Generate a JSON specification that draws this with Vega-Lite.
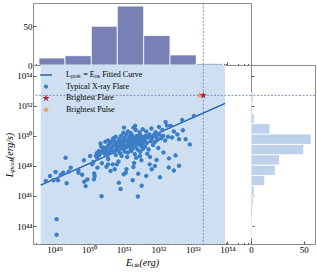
{
  "$schema": "https://vega.github.io/schema/vega-lite/v6.json",
  "padding": {"left": 4, "top": 2, "right": 0, "bottom": 0},
  "columns": 2,
  "spacing": 0,
  "align": "each",
  "bounds": "flush",
  "resolve": {"scale": {"color": "independent", "shape": "independent"}, "legend": {"color": "independent", "shape": "independent"}},
  "config": {
    "font": "Liberation Serif",
    "view": {"stroke": "#8c8c8c", "strokeWidth": 1},
    "axis": {"grid": false, "domain": false, "labelFontSize": 9, "titleFontSize": 10, "labelColor": "#000000", "titleColor": "#000000", "tickColor": "#555555", "titleFontWeight": "normal", "titleFontStyle": "italic", "labelOverlap": false, "labelFlush": false},
    "legend": {"labelFontSize": 8, "labelColor": "#000000", "padding": 0, "rowPadding": 1.6, "labelOffset": 14, "symbolStrokeWidth": 0, "symbolSize": 144}
  },
  "datasets": {
    "flares": [
      {"E":1.15e49,"L":2.82e44,"k":"typ"},{"E":1.15e49,"L":2.63e43,"k":"typ"},{"E":5.62e48,"L":1.0e47,"k":"typ"},{"E":7.41e48,"L":2.14e47,"k":"typ"},{"E":1.07e49,"L":3.98e47,"k":"typ"},{"E":9.33e48,"L":1.12e47,"k":"typ"},{"E":1.26e49,"L":1.12e47,"k":"typ"},{"E":1.51e49,"L":2.51e47,"k":"typ"},{"E":1.78e49,"L":3.55e47,"k":"typ"},
      {"E":2.24e49,"L":7.08e46,"k":"typ"},{"E":2.09e49,"L":3.55e48,"k":"typ"},{"E":2.57e49,"L":4.17e47,"k":"typ"},{"E":2.95e49,"L":7.76e47,"k":"typ"},{"E":4.90e49,"L":5.37e47,"k":"typ"},{"E":4.90e49,"L":3.55e47,"k":"typ"},{"E":6.31e49,"L":2.63e47,"k":"typ"},{"E":7.08e49,"L":2.40e48,"k":"typ"},{"E":7.24e49,"L":8.91e46,"k":"typ"},{"E":7.94e49,"L":4.57e46,"k":"typ"},{"E":1.07e50,"L":4.68e48,"k":"typ"},{"E":8.91e49,"L":1.26e47,"k":"typ"},
      {"E":1.23e50,"L":1.29e48,"k":"typ"},{"E":1.32e50,"L":1.86e48,"k":"typ"},{"E":1.41e50,"L":3.24e47,"k":"typ"},{"E":1.45e50,"L":2.14e47,"k":"typ"},{"E":1.38e50,"L":1.29e47,"k":"typ"},{"E":1.58e50,"L":4.68e48,"k":"typ"},{"E":1.74e50,"L":7.76e47,"k":"typ"},{"E":2.29e50,"L":9.55e45,"k":"typ"},{"E":2.34e50,"L":1.51e48,"k":"typ"},{"E":2.69e50,"L":1.66e49,"k":"typ"},
      {"E":3.02e50,"L":7.76e48,"k":"typ"},{"E":3.39e50,"L":4.68e48,"k":"typ"},{"E":3.55e50,"L":1.29e48,"k":"typ"},{"E":4.17e50,"L":4.68e47,"k":"typ"},{"E":4.79e50,"L":1.29e48,"k":"typ"},{"E":5.89e50,"L":5.37e48,"k":"typ"},{"E":5.50e50,"L":6.03e47,"k":"typ"},{"E":6.31e50,"L":1.29e48,"k":"typ"},{"E":3.16e50,"L":8.91e47,"k":"typ"},{"E":3.55e50,"L":2.82e48,"k":"typ"},
      {"E":1.74e50,"L":3.09e48,"k":"typ"},{"E":1.95e50,"L":5.13e48,"k":"typ"},{"E":3.98e50,"L":3.98e49,"k":"typ"},{"E":1.66e50,"L":7.08e48,"k":"typ"},{"E":1.91e50,"L":1.0e49,"k":"typ"},{"E":2.04e50,"L":6.31e48,"k":"typ"},{"E":2.24e50,"L":2.0e49,"k":"typ"},{"E":2.40e50,"L":8.91e48,"k":"typ"},{"E":2.57e50,"L":1.26e49,"k":"typ"},{"E":2.82e50,"L":6.61e48,"k":"typ"},
      {"E":3.16e50,"L":1.58e49,"k":"typ"},{"E":3.31e50,"L":1.0e49,"k":"typ"},{"E":3.63e50,"L":2.40e49,"k":"typ"},{"E":3.80e50,"L":7.94e48,"k":"typ"},{"E":4.17e50,"L":1.41e49,"k":"typ"},{"E":4.47e50,"L":1.12e49,"k":"typ"},{"E":4.79e50,"L":2.0e49,"k":"typ"},{"E":5.25e50,"L":8.91e48,"k":"typ"},{"E":5.62e50,"L":2.63e49,"k":"typ"},{"E":6.03e50,"L":1.32e49,"k":"typ"},
      {"E":6.46e50,"L":1.78e49,"k":"typ"},{"E":2.14e50,"L":3.16e49,"k":"typ"},{"E":2.95e50,"L":4.17e49,"k":"typ"},{"E":3.55e50,"L":5.01e49,"k":"typ"},{"E":4.27e50,"L":3.55e49,"k":"typ"},{"E":5.01e50,"L":7.08e49,"k":"typ"},{"E":5.50e50,"L":4.47e49,"k":"typ"},{"E":5.89e50,"L":8.91e49,"k":"typ"},{"E":6.31e50,"L":3.31e49,"k":"typ"},{"E":4.90e50,"L":5.62e49,"k":"typ"},
      {"E":7.24e50,"L":7.76e46,"k":"typ"},{"E":8.13e50,"L":2.95e46,"k":"typ"},{"E":8.71e50,"L":4.68e48,"k":"typ"},{"E":1.15e51,"L":3.55e47,"k":"typ"},{"E":1.20e51,"L":6.03e47,"k":"typ"},{"E":1.82e51,"L":1.12e47,"k":"typ"},{"E":1.91e51,"L":8.51e47,"k":"typ"},{"E":2.63e51,"L":3.09e47,"k":"typ"},{"E":2.57e51,"L":9.33e45,"k":"typ"},{"E":3.31e51,"L":4.79e46,"k":"typ"},
      {"E":2.95e51,"L":4.68e48,"k":"typ"},{"E":3.24e51,"L":2.40e48,"k":"typ"},{"E":1.0e51,"L":2.82e47,"k":"typ"},{"E":7.08e50,"L":2.0e48,"k":"typ"},{"E":1.26e51,"L":3.98e48,"k":"typ"},{"E":2.0e51,"L":1.58e48,"k":"typ"},{"E":2.29e51,"L":3.55e48,"k":"typ"},{"E":1.58e51,"L":1.29e49,"k":"typ"},{"E":9.77e50,"L":1.66e50,"k":"typ"},{"E":1.91e51,"L":3.63e50,"k":"typ"},
      {"E":1.02e51,"L":3.63e50,"k":"typ"},{"E":2.14e51,"L":4.79e50,"k":"typ"},
      {"E":7.08e50,"L":1.0e49,"k":"typ"},{"E":7.59e50,"L":2.0e49,"k":"typ"},{"E":7.94e50,"L":7.08e48,"k":"typ"},{"E":8.51e50,"L":1.58e49,"k":"typ"},{"E":9.12e50,"L":2.51e49,"k":"typ"},{"E":1.0e51,"L":1.26e49,"k":"typ"},{"E":1.07e51,"L":8.91e48,"k":"typ"},{"E":1.12e51,"L":2.24e49,"k":"typ"},{"E":1.20e51,"L":1.78e49,"k":"typ"},{"E":1.32e51,"L":7.94e48,"k":"typ"},
      {"E":1.41e51,"L":2.63e49,"k":"typ"},{"E":1.51e51,"L":2.0e49,"k":"typ"},{"E":1.66e51,"L":1.0e49,"k":"typ"},{"E":1.78e51,"L":2.51e49,"k":"typ"},{"E":1.91e51,"L":1.58e49,"k":"typ"},{"E":2.09e51,"L":6.31e48,"k":"typ"},{"E":2.24e51,"L":2.24e49,"k":"typ"},{"E":2.51e51,"L":1.26e49,"k":"typ"},{"E":2.82e51,"L":2.69e49,"k":"typ"},{"E":3.02e51,"L":8.91e48,"k":"typ"},
      {"E":3.31e51,"L":2.0e49,"k":"typ"},{"E":3.63e51,"L":1.41e49,"k":"typ"},
      {"E":6.92e50,"L":3.98e49,"k":"typ"},{"E":7.41e50,"L":6.31e49,"k":"typ"},{"E":7.94e50,"L":3.16e49,"k":"typ"},{"E":8.32e50,"L":1.0e50,"k":"typ"},{"E":8.91e50,"L":5.01e49,"k":"typ"},{"E":9.55e50,"L":3.55e49,"k":"typ"},{"E":1.05e51,"L":7.94e49,"k":"typ"},{"E":1.10e51,"L":4.47e49,"k":"typ"},{"E":1.17e51,"L":1.26e50,"k":"typ"},{"E":1.26e51,"L":5.62e49,"k":"typ"},
      {"E":1.35e51,"L":3.16e49,"k":"typ"},{"E":1.45e51,"L":8.91e49,"k":"typ"},{"E":1.55e51,"L":3.98e49,"k":"typ"},{"E":1.62e51,"L":7.08e49,"k":"typ"},{"E":1.74e51,"L":1.12e50,"k":"typ"},{"E":1.86e51,"L":5.01e49,"k":"typ"},{"E":2.0e51,"L":3.55e49,"k":"typ"},{"E":2.14e51,"L":7.94e49,"k":"typ"},{"E":2.29e51,"L":5.62e49,"k":"typ"},{"E":2.40e51,"L":1.0e50,"k":"typ"},
      {"E":2.57e51,"L":3.98e49,"k":"typ"},{"E":2.75e51,"L":7.08e49,"k":"typ"},{"E":2.95e51,"L":1.26e50,"k":"typ"},{"E":3.16e51,"L":5.01e49,"k":"typ"},{"E":3.39e51,"L":8.91e49,"k":"typ"},{"E":3.55e51,"L":3.16e49,"k":"typ"},{"E":3.72e51,"L":6.31e49,"k":"typ"},
      {"E":1.32e51,"L":2.0e50,"k":"typ"},{"E":1.58e51,"L":1.58e50,"k":"typ"},{"E":2.24e51,"L":2.51e50,"k":"typ"},{"E":2.88e51,"L":1.78e50,"k":"typ"},{"E":3.55e51,"L":2.82e50,"k":"typ"},
      {"E":4.47e51,"L":2.14e47,"k":"typ"},{"E":1.12e52,"L":1.78e47,"k":"typ"},{"E":6.46e51,"L":6.03e47,"k":"typ"},{"E":2.0e52,"L":7.94e47,"k":"typ"},{"E":7.94e51,"L":1.0e48,"k":"typ"},{"E":2.04e52,"L":3.24e48,"k":"typ"},{"E":5.75e51,"L":3.98e48,"k":"typ"},{"E":5.62e51,"L":1.29e48,"k":"typ"},{"E":8.91e51,"L":2.51e48,"k":"typ"},{"E":4.79e51,"L":6.61e48,"k":"typ"},
      {"E":1.62e52,"L":8.51e50,"k":"typ"},
      {"E":4.17e51,"L":2.0e49,"k":"typ"},{"E":5.25e51,"L":1.26e49,"k":"typ"},{"E":7.08e51,"L":2.51e49,"k":"typ"},{"E":1.0e52,"L":1.58e49,"k":"typ"},{"E":1.41e52,"L":7.94e48,"k":"typ"},
      {"E":3.98e51,"L":5.01e49,"k":"typ"},{"E":4.27e51,"L":1.0e50,"k":"typ"},{"E":4.68e51,"L":3.55e49,"k":"typ"},{"E":5.01e51,"L":7.94e49,"k":"typ"},{"E":5.50e51,"L":1.26e50,"k":"typ"},{"E":6.03e51,"L":4.47e49,"k":"typ"},{"E":6.61e51,"L":7.08e49,"k":"typ"},{"E":7.24e51,"L":1.12e50,"k":"typ"},{"E":7.94e51,"L":3.98e49,"k":"typ"},{"E":8.71e51,"L":8.91e49,"k":"typ"},
      {"E":9.55e51,"L":5.62e49,"k":"typ"},{"E":1.07e52,"L":1.26e50,"k":"typ"},{"E":1.20e52,"L":7.08e49,"k":"typ"},{"E":1.38e52,"L":1.0e50,"k":"typ"},{"E":1.58e52,"L":5.01e49,"k":"typ"},{"E":1.91e52,"L":8.91e49,"k":"typ"},
      {"E":4.47e51,"L":2.0e50,"k":"typ"},{"E":6.31e51,"L":3.16e50,"k":"typ"},{"E":8.32e51,"L":1.78e50,"k":"typ"},{"E":1.05e52,"L":3.98e50,"k":"typ"},{"E":1.32e52,"L":2.51e50,"k":"typ"},{"E":1.78e52,"L":5.01e50,"k":"typ"},
      {"E":2.82e52,"L":5.01e47,"k":"typ"},{"E":3.98e52,"L":1.05e48,"k":"typ"},{"E":3.16e52,"L":5.01e48,"k":"typ"},{"E":8.13e52,"L":2.75e49,"k":"typ"},{"E":3.98e52,"L":6.03e49,"k":"typ"},{"E":6.17e52,"L":6.03e49,"k":"typ"},{"E":2.29e52,"L":4.68e50,"k":"typ"},{"E":5.13e52,"L":2.40e50,"k":"typ"},{"E":4.90e52,"L":1.17e51,"k":"typ"},{"E":1.07e53,"L":2.14e51,"k":"typ"},
      {"E":2.51e52,"L":7.94e49,"k":"typ"},{"E":3.55e52,"L":1.26e50,"k":"typ"},{"E":2.82e52,"L":2.0e50,"k":"typ"},
      {"E":1.58e53,"L":5.13e52,"k":"pulse"},{"E":2.0e53,"L":5.13e52,"k":"flare"}
    ],
    "ehist": [
      {"lo":3.56e48,"hi":2.01e49,"n":9},{"lo":2.01e49,"hi":1.16e50,"n":12},{"lo":1.16e50,"hi":6.53e50,"n":50},{"lo":6.53e50,"hi":3.78e51,"n":76},{"lo":3.78e51,"hi":2.18e52,"n":38},{"lo":2.18e52,"hi":1.25e53,"n":13},{"lo":1.25e53,"hi":7.26e53,"n":2}
    ],
    "lhist": [
      {"lo":1.754e43,"hi":8.57e43,"n":1},{"lo":8.57e43,"hi":4.19e44,"n":1},{"lo":4.19e44,"hi":2.05e45,"n":0},{"lo":2.05e45,"hi":1.0e46,"n":2},{"lo":1.0e46,"hi":4.89e46,"n":3},{"lo":4.89e46,"hi":2.39e47,"n":13},{"lo":2.39e47,"hi":1.167e48,"n":23},{"lo":1.167e48,"hi":5.7e48,"n":27},{"lo":5.7e48,"hi":2.78e49,"n":50},{"lo":2.78e49,"hi":1.358e50,"n":57},{"lo":1.358e50,"hi":6.64e50,"n":18},{"lo":6.64e50,"hi":3.24e51,"n":3},{"lo":3.24e51,"hi":1.585e52,"n":0},{"lo":1.585e52,"hi":7.74e52,"n":2}
    ]
  },
  "concat": [
    {
      "width": 218, "height": 62,
      "layer": [
        {
          "data": {"name": "ehist"},
          "mark": {"type": "rect", "color": "#7880b5", "stroke": "#ffffff", "strokeWidth": 0.8},
          "encoding": {
            "x": {"field": "lo", "type": "quantitative", "scale": {"type": "log", "domain": [2.39e48, 4.78e54], "nice": false},
                  "axis": {"title": null, "labels": false, "values": [3e48,4e48,5e48,6e48,7e48,8e48,9e48,1e49,2e49,3e49,4e49,5e49,6e49,7e49,8e49,9e49,1e50,2e50,3e50,4e50,5e50,6e50,7e50,8e50,9e50,1e51,2e51,3e51,4e51,5e51,6e51,7e51,8e51,9e51,1e52,2e52,3e52,4e52,5e52,6e52,7e52,8e52,9e52,1e53,2e53,3e53,4e53,5e53,6e53,7e53,8e53,9e53,1e54,2e54,3e54,4e54],
                           "tickSize": {"condition": {"test": "abs(log(datum.value)/LN10-round(log(datum.value)/LN10))<0.001", "value": -3}, "value": -1.5}}},
            "x2": {"field": "hi"},
            "y": {"field": "n", "type": "quantitative", "scale": {"domain": [0, 80], "nice": false},
                  "axis": {"title": null, "values": [0, 50], "tickSize": -3, "labelPadding": 4}},
            "y2": {"datum": 0}
          }
        },
        {
          "data": {"values": [{"E": 2.0e53}]},
          "mark": {"type": "rule", "color": "#7b84c4", "strokeWidth": 0.9, "strokeDash": [2, 1.5]},
          "encoding": {"x": {"field": "E", "type": "quantitative", "title": null, "scale": {"type": "log", "domain": [2.39e48, 4.78e54], "nice": false}}}
        }
      ]
    },
    {
      "width": 64, "height": 62,
      "view": {"stroke": null},
      "data": {"values": []},
      "mark": "point"
    },
    {
      "width": 218, "height": 179,
      "layer": [
        {
          "data": {"values": [{"E1": 3.98e48, "E2": 8.51e53}]},
          "mark": {"type": "rect", "color": "#cddff0"},
          "encoding": {
            "x": {"field": "E1", "type": "quantitative", "title": "Eᵢₛₒ(erg)", "scale": {"type": "log", "domain": [2.39e48, 4.78e54], "nice": false},
                  "axis": {"values": [3e48,4e48,5e48,6e48,7e48,8e48,9e48,1e49,2e49,3e49,4e49,5e49,6e49,7e49,8e49,9e49,1e50,2e50,3e50,4e50,5e50,6e50,7e50,8e50,9e50,1e51,2e51,3e51,4e51,5e51,6e51,7e51,8e51,9e51,1e52,2e52,3e52,4e52,5e52,6e52,7e52,8e52,9e52,1e53,2e53,3e53,4e53,5e53,6e53,7e53,8e53,9e53,1e54,2e54,3e54,4e54],
                           "tickSize": {"condition": {"test": "abs(log(datum.value)/LN10-round(log(datum.value)/LN10))<0.001", "value": -3}, "value": -1.5},
                           "labelPadding": 4, "titlePadding": 2,
                           "labelExpr": "abs(log(datum.value)/LN10-round(log(datum.value)/LN10))<0.001 ? '10'+['⁰','¹','²','³','⁴','⁵','⁶','⁷','⁸','⁹'][floor(round(log(datum.value)/LN10)/10)]+['⁰','¹','²','³','⁴','⁵','⁶','⁷','⁸','⁹'][round(log(datum.value)/LN10)%10] : ''"}},
            "x2": {"field": "E2"}
          }
        },
        {
          "data": {"values": [{"E": 2.0e53}]},
          "mark": {"type": "rule", "color": "#7b84c4", "strokeWidth": 0.9, "strokeDash": [2, 1.5]},
          "encoding": {"x": {"field": "E", "type": "quantitative", "title": "Eᵢₛₒ(erg)", "scale": {"type": "log", "domain": [2.39e48, 4.78e54], "nice": false}}}
        },
        {
          "data": {"values": [{"L": 5.13e52}]},
          "mark": {"type": "rule", "color": "#7b84c4", "strokeWidth": 0.9, "strokeDash": [2, 1.5]},
          "encoding": {"y": {"field": "L", "type": "quantitative", "title": "Lₚₑₐₖ(erg/s)", "scale": {"type": "log", "domain": [6.31e42, 5.41e54], "nice": false},
                  "axis": {"values": [1e44, 1e46, 1e48, 1e50, 1e52, 1e54], "tickSize": -3, "labelPadding": 4, "titlePadding": 2,
                           "labelExpr": "'10'+['⁰','¹','²','³','⁴','⁵','⁶','⁷','⁸','⁹'][floor(round(log(datum.value)/LN10)/10)]+['⁰','¹','²','³','⁴','⁵','⁶','⁷','⁸','⁹'][round(log(datum.value)/LN10)%10]"}}}
        },
        {
          "data": {"values": [{"E": 3.98e48, "L": 5.37e46}, {"E": 8.51e53, "L": 1.51e52}]},
          "mark": {"type": "line", "color": "#1b62ad", "strokeWidth": 1.3},
          "encoding": {
            "x": {"field": "E", "type": "quantitative", "title": "Eᵢₛₒ(erg)", "scale": {"type": "log", "domain": [2.39e48, 4.78e54], "nice": false}},
            "y": {"field": "L", "type": "quantitative", "title": "Lₚₑₐₖ(erg/s)", "scale": {"type": "log", "domain": [6.31e42, 5.41e54], "nice": false}}
          }
        },
        {
          "data": {"name": "flares"},
          "mark": {"type": "point", "filled": true, "opacity": 1, "strokeWidth": 0, "size": 144},
          "encoding": {
            "x": {"field": "E", "type": "quantitative", "title": "Eᵢₛₒ(erg)", "scale": {"type": "log", "domain": [2.39e48, 4.78e54], "nice": false}},
            "y": {"field": "L", "type": "quantitative", "title": "Lₚₑₐₖ(erg/s)", "scale": {"type": "log", "domain": [6.31e42, 5.41e54], "nice": false}},
            "color": {"field": "k", "type": "nominal", "scale": {"domain": ["fit", "typ", "flare", "pulse"], "range": ["#1b62ad", "#3c7ec6", "#a8232f", "#f3965e"]},
                      "legend": {"title": null, "orient": "none", "legendX": 7, "legendY": 4,
                                 "labelExpr": "datum.label=='fit' ? 'Lₚₑₐₖ = Eᵢₛₒ Fitted Curve' : datum.label=='typ' ? 'Typical X-ray Flare' : datum.label=='flare' ? 'Brightest Flare' : 'Brightest Pulse'"}},
            "shape": {"field": "k", "type": "nominal", "scale": {"domain": ["fit", "typ", "flare", "pulse"], "range": [
                        "M-1,-0.12L1,-0.12L1,0.12L-1,0.12Z",
                        "M0.367,0A0.367,0.367,0,1,1,-0.367,0A0.367,0.367,0,1,1,0.367,0Z",
                        "M0,-0.62L0.139,-0.192L0.59,-0.192L0.225,0.073L0.365,0.502L0,0.237L-0.365,0.502L-0.225,0.073L-0.59,-0.192L-0.139,-0.192Z",
                        "M0,-0.62L0.139,-0.192L0.59,-0.192L0.225,0.073L0.365,0.502L0,0.237L-0.365,0.502L-0.225,0.073L-0.59,-0.192L-0.139,-0.192Z"]},
                      "legend": {"title": null, "orient": "none", "legendX": 7, "legendY": 4,
                                 "labelExpr": "datum.label=='fit' ? 'Lₚₑₐₖ = Eᵢₛₒ Fitted Curve' : datum.label=='typ' ? 'Typical X-ray Flare' : datum.label=='flare' ? 'Brightest Flare' : 'Brightest Pulse'"}}
          }
        }
      ]
    },
    {
      "width": 64, "height": 179,
      "layer": [
        {
          "data": {"name": "lhist"},
          "mark": {"type": "rect", "color": "#bed1ea", "stroke": "#ffffff", "strokeWidth": 0.8},
          "encoding": {
            "y": {"field": "lo", "type": "quantitative", "scale": {"type": "log", "domain": [6.31e42, 5.41e54], "nice": false},
                  "axis": {"title": null, "labels": false, "values": [1e44, 1e46, 1e48, 1e50, 1e52, 1e54], "tickSize": -3}},
            "y2": {"field": "hi"},
            "x": {"field": "n", "type": "quantitative", "scale": {"domain": [0, 60.7], "nice": false},
                  "axis": {"title": null, "values": [0, 50], "tickSize": -3, "labelPadding": 4}},
            "x2": {"datum": 0}
          }
        },
        {
          "data": {"values": [{"L": 5.13e52}]},
          "mark": {"type": "rule", "color": "#7b84c4", "strokeWidth": 0.9, "strokeDash": [2, 1.5]},
          "encoding": {"y": {"field": "L", "type": "quantitative", "title": null, "scale": {"type": "log", "domain": [6.31e42, 5.41e54], "nice": false}}}
        }
      ]
    }
  ]
}
